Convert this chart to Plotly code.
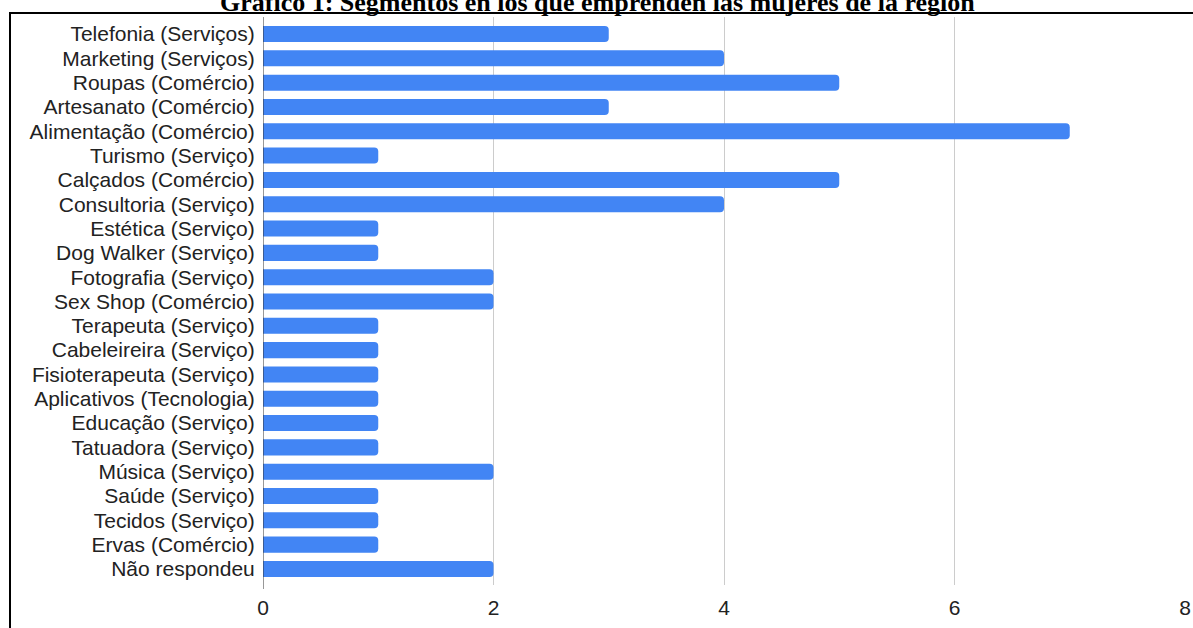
import plotly.graph_objects as go

categories = [
    "Telefonia (Serviços)", "Marketing (Serviços)", "Roupas (Comércio)",
    "Artesanato (Comércio)", "Alimentação (Comércio)", "Turismo (Serviço)",
    "Calçados (Comércio)", "Consultoria (Serviço)", "Estética (Serviço)",
    "Dog Walker (Serviço)", "Fotografia (Serviço)", "Sex Shop (Comércio)",
    "Terapeuta (Serviço)", "Cabeleireira (Serviço)", "Fisioterapeuta (Serviço)",
    "Aplicativos (Tecnologia)", "Educação (Serviço)", "Tatuadora (Serviço)",
    "Música (Serviço)", "Saúde (Serviço)", "Tecidos (Serviço)",
    "Ervas (Comércio)", "Não respondeu",
]
values = [3, 4, 5, 3, 7, 1, 5, 4, 1, 1, 2, 2, 1, 1, 1, 1, 1, 1, 2, 1, 1, 1, 2]
x_ticks = [0, 2, 4, 6, 8]
title_text = "Gráfico 1: Segmentos en los que emprenden las mujeres de la región"

W, H = 1193, 628
L, R, T, B = 263, 8, 17, 43
pw, ph = W - L - R, H - T - B

fig = go.Figure(go.Bar(
    x=values, y=categories, orientation="h",
    marker=dict(color="#4285F4", line=dict(width=0), cornerradius=4),
    width=0.66,
))

fig.update_layout(
    width=W, height=H,
    margin=dict(l=L, r=R, t=T, b=B, pad=0, autoexpand=False),
    paper_bgcolor="white", plot_bgcolor="white",
    showlegend=False,
    font=dict(family="Liberation Sans, Arial, sans-serif", size=21, color="#222222"),
    xaxis=dict(
        range=[0, 8], tickmode="array", tickvals=x_ticks,
        ticktext=[str(v) for v in x_ticks],
        showgrid=True, gridcolor="#cccccc", gridwidth=1,
        zeroline=False, showline=False, automargin=False,
        ticks="outside", ticklen=4, tickcolor="rgba(0,0,0,0)",
        tickfont=dict(size=21, color="#222222"),
    ),
    yaxis=dict(
        tickmode="array", tickvals=categories, ticktext=categories,
        categoryorder="array", categoryarray=categories,
        range=[22.66, -0.7], autorange=False, automargin=False,
        showgrid=False, zeroline=False, showline=False,
        ticks="outside", ticklen=3, tickcolor="rgba(0,0,0,0)",
        tickfont=dict(size=21, color="#222222"),
    ),
    annotations=[
        dict(text="<b>" + title_text + "</b>", showarrow=False,
             xref="paper", yref="paper",
             x=(597 - L) / pw, xanchor="center",
             y=1 + (T - 2) / ph, yanchor="middle",
             font=dict(family="Liberation Serif, Times New Roman, serif",
                       size=26, color="black")),
    ],
    shapes=[
        dict(type="line", xref="x", yref="paper", x0=0, x1=0,
             y0=-4 / ph, y1=1, line=dict(color="#333333", width=1)),
        dict(type="line", xref="paper", yref="paper",
             x0=(9 - L) / pw, x1=(W + 5 - L) / pw,
             y0=1 + (T - 13) / ph, y1=1 + (T - 13) / ph,
             line=dict(color="black", width=2)),
        dict(type="line", xref="paper", yref="paper",
             x0=(10 - L) / pw, x1=(10 - L) / pw,
             y0=1 + (T - 13) / ph, y1=-(B + 5) / ph,
             line=dict(color="black", width=2)),
    ],
)

fig.write_html(
    "out.html",
    config={"displayModeBar": False},
    post_script="document.body.style.margin='0';document.body.style.padding='0';",
)
